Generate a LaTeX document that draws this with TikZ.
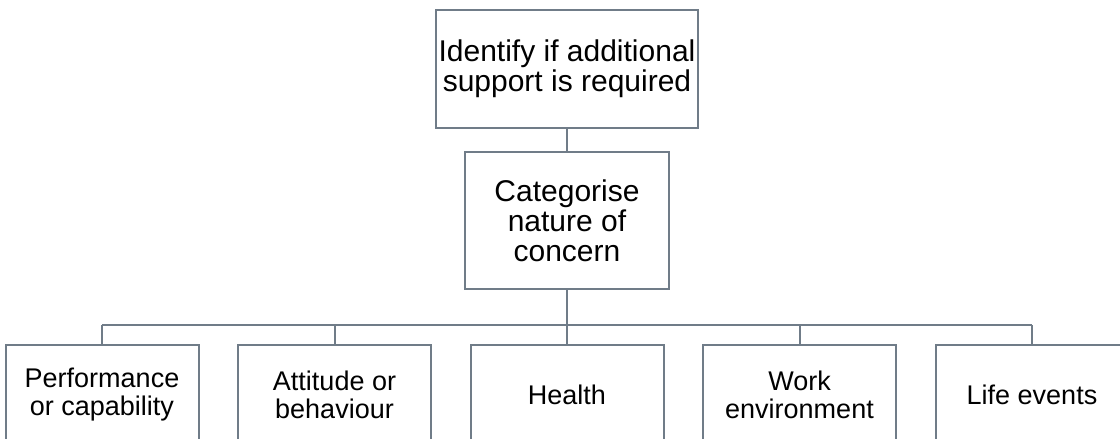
\documentclass[tikz,border=0pt]{standalone}
\usepackage{fontspec}
\setmainfont{Liberation Sans}
\usetikzlibrary{positioning,calc}
\definecolor{linegray}{RGB}{112,124,136}

\begin{document}
\begin{tikzpicture}[x=1pt,y=-1pt,
    box/.style={draw=linegray,line width=2pt,fill=white,align=center,inner sep=2pt},
    big/.style={font=\fontsize{30}{30}\selectfont},
    small/.style={font=\fontsize{27}{28}\selectfont},
    link/.style={draw=linegray,line width=2pt}]
  \clip (0,0) rectangle (1120,439);
  \node[box,big,minimum width=262pt,minimum height=118pt] (top) at (567,69) {Identify if additional\\support is required};
  \node[box,big,minimum width=204pt,minimum height=137pt] (cat) at (567,220.5) {Categorise\\nature of\\concern};
  \coordinate (bus) at (567,325);
  \foreach \i/\lab in {1/{Performance\\or capability}, 2/{Attitude or\\behaviour}, 3/{Health}, 4/{Work\\environment}, 5/{Life events}}{
     \node[box,small,minimum width=193pt,minimum height=100pt] (b\i) at ({102+232.5*(\i-1)},395) {\lab};
     \draw[link] (bus -| b\i.north) -- (b\i.north);
  }
  \draw[link] (top.south) -- (cat.north);
  \draw[link] (cat.south) -- (bus);
  \draw[link] (bus -| b1.north) -- (bus -| b5.north);
\end{tikzpicture}
\end{document}
